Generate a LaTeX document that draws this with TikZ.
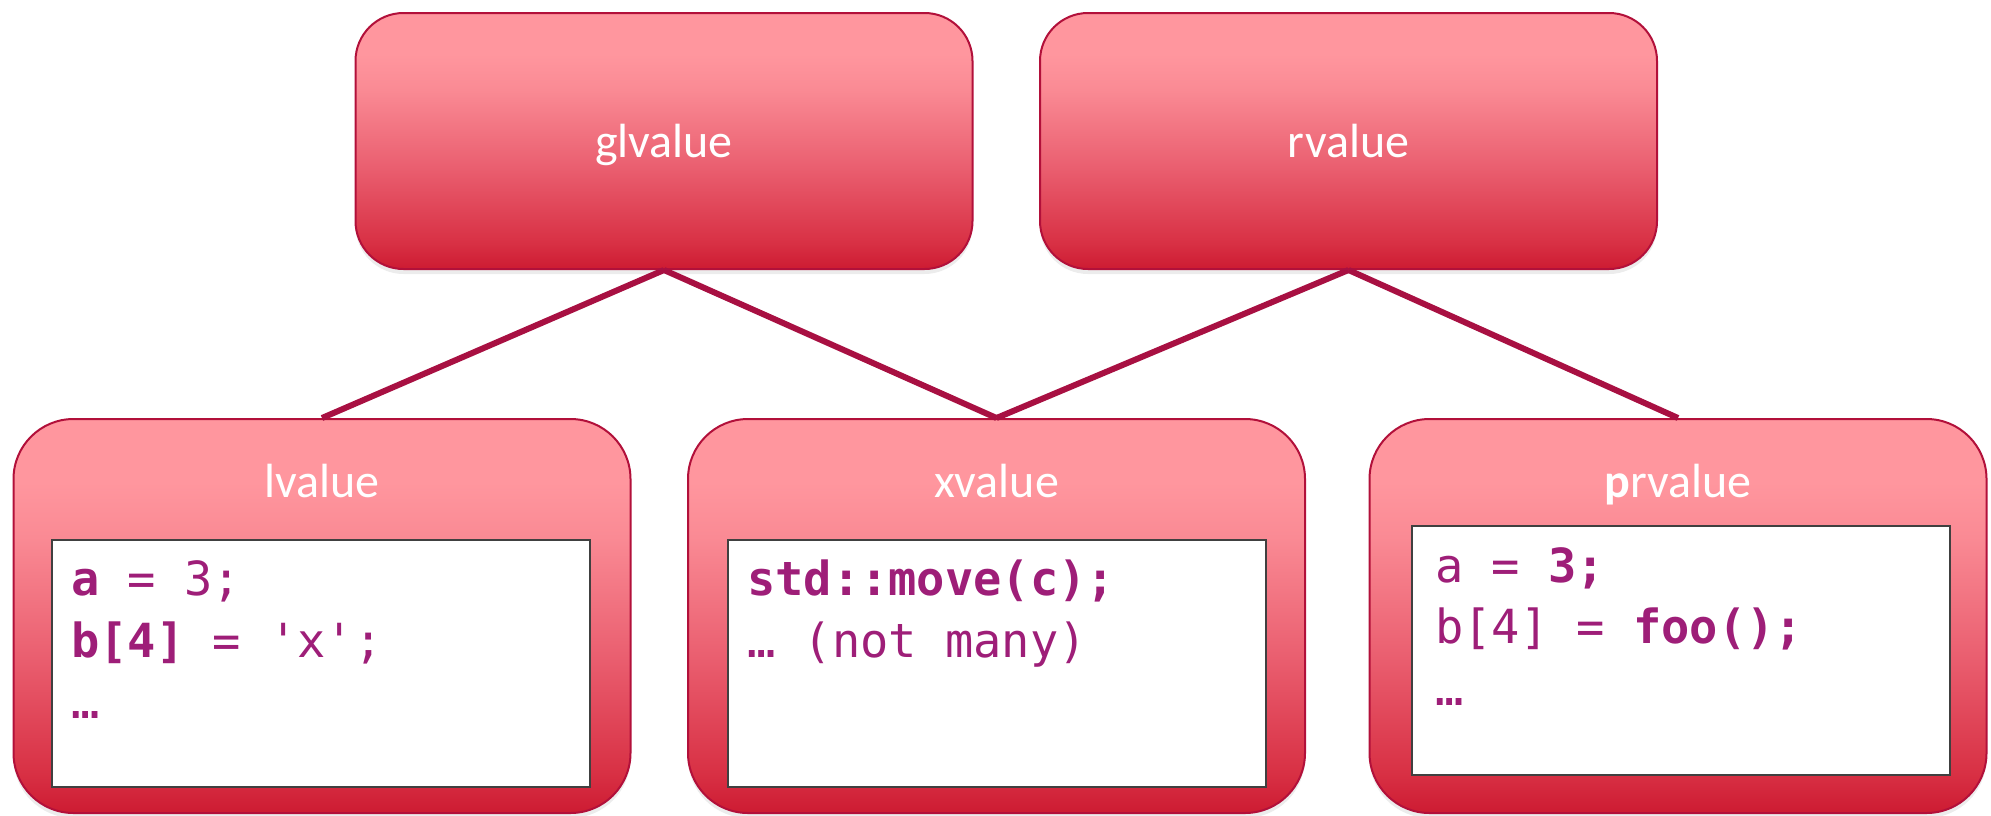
\documentclass[tikz,border=0pt]{standalone}
\usepackage{fontspec}
\setmainfont{Carlito}
\setmonofont{DejaVu Sans Mono}
\usetikzlibrary{shadows}

\definecolor{shadetop}{RGB}{255,150,158}
\definecolor{shadehigh}{RGB}{250,138,148}
\definecolor{shademid}{RGB}{234,95,112}
\definecolor{shadelow}{RGB}{216,48,68}
\definecolor{shadebot}{RGB}{205,27,50}
\definecolor{boxedge}{RGB}{178,16,58}
\definecolor{linkred}{RGB}{168,16,66}
\definecolor{codepurple}{RGB}{158,30,120}
\definecolor{codeedge}{RGB}{64,64,64}

% light pink at the top, deep red at the bottom
\pgfdeclareverticalshading{valueshade}{100bp}{%
  color(0bp)=(shadebot); color(25bp)=(shadebot); color(30bp)=(shadelow);
  color(45bp)=(shademid); color(60bp)=(shadehigh); color(67bp)=(shadetop);
  color(100bp)=(shadetop)}

\tikzset{
  valuebox/.style={draw=boxedge, line width=2pt, shading=valueshade,
    inner sep=0pt, minimum width=617pt,
    drop shadow={shadow xshift=0pt, shadow yshift=-5pt, opacity=0.15}},
  topbox/.style={valuebox, rounded corners=48pt, minimum height=256pt},
  leafbox/.style={valuebox, rounded corners=60pt, minimum height=394pt},
  codebox/.style={draw=codeedge, line width=2.5pt, fill=white, inner sep=0pt,
    minimum width=538pt},
  label/.style={text=white, font=\fontsize{48}{58}\selectfont, inner sep=0pt, anchor=base},
  code/.style={text=codepurple, font=\ttfamily\fontsize{47}{56}\selectfont,
    inner sep=0pt, anchor=base west},
  link/.style={draw=linkred, line width=6pt}
}

\begin{document}
\begin{tikzpicture}[x=1pt, y=-1pt]
\useasboundingbox (0,0) rectangle (1991,815);

% category boxes
\node[topbox] (gl) at (664,141) {};
\node[topbox] (rv) at (1348.5,141) {};
\node[leafbox] (lv) at (322,616) {};
\node[leafbox] (xv) at (996.5,616) {};
\node[leafbox] (pr) at (1678,616) {};

% category names
\node[label] (glname) at (664,157) {glvalue};
\node[label] (rvname) at (1348.5,157) {rvalue};
\node[label] (lvname) at (322,497) {lvalue};
\node[label] (xvname) at (996.5,497) {xvalue};
\node[label] (prname) at (1678,497) {{\bfseries p}rvalue};

% example panels
\node[codebox, minimum height=247pt] (lvcode) at (321,663.5) {};
\node[codebox, minimum height=247pt] (xvcode) at (997,663.5) {};
\node[codebox, minimum height=249pt] (prcode) at (1681,650.5) {};

% lvalue examples
\node[code] (lvA) at (71,595) {{\bfseries a} = 3;};
\node[code] (lvB) at (71,657) {{\bfseries b[4]} = 'x';};
\node[code] (lvC) at (71,718) {…};

% xvalue examples
\node[code] (xvA) at (747,595) {\bfseries std::move(c);};
\node[code] (xvB) at (747,657) {… (not many)};

% prvalue examples
\node[code] (prA) at (1435,582) {a = {\bfseries 3;}};
\node[code] (prB) at (1435,643) {b[4] = {\bfseries foo();}};
\node[code] (prC) at (1435,705) {…};

% hierarchy links
\draw[link] (gl.south) -- (lv.north);
\draw[link] (gl.south) -- (xv.north);
\draw[link] (rv.south) -- (xv.north);
\draw[link] (rv.south) -- (pr.north);
\end{tikzpicture}
\end{document}
